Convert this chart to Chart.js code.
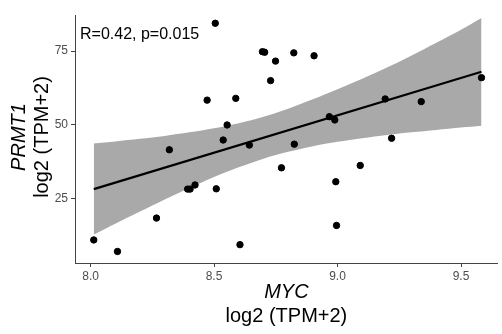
<!DOCTYPE html>
<html>
<head>
<meta charset="utf-8">
<script src="https://cdn.jsdelivr.net/npm/chart.js@4"></script>
<style>
  html, body { margin: 0; padding: 0; background: #fff; }
  #wrap { width: 502px; height: 334px; }
</style>
</head>
<body>
<div id="wrap"><canvas id="chart1" width="502" height="334"></canvas></div>
<script>
// MYC vs PRMT1, log2 (TPM+2)
const myc = [8.013, 8.109, 8.267, 8.319, 8.393, 8.403, 8.423, 8.472, 8.505, 8.509, 8.537, 8.553, 8.588, 8.605, 8.643, 8.696,
  8.705, 8.729, 8.749, 8.773, 8.823, 8.825, 8.905, 8.967, 8.989, 8.993, 8.996, 9.092, 9.193, 9.219, 9.339, 9.583];
const prmt1 = [11.1, 7.2, 18.5, 41.6, 28.3, 28.3, 29.7, 58.4, 84.4, 28.4, 44.9, 50.0, 59.0, 9.5, 43.2, 74.8,
  74.6, 65.0, 71.6, 35.5, 74.4, 43.5, 73.4, 52.8, 51.7, 30.8, 16.0, 36.3, 58.8, 45.5, 57.9, 66.0];

// fitted line and its confidence band
const fitX = [8.013, 9.583];
const fitY = [28.3, 68.0];
const bandX = [8.013, 8.1, 8.2, 8.3, 8.4, 8.5, 8.6, 8.7, 8.8, 8.9, 9.0, 9.1, 9.2, 9.3, 9.4, 9.5, 9.583];
const bandUpper = [43.7, 44.4, 45.3, 46.3, 47.5, 48.9, 50.6, 52.8, 55.5, 58.7, 62.1, 65.6, 69.4, 73.5, 77.8, 82.2, 86.2];
const bandLower = [12.9, 16.6, 20.7, 24.8, 28.7, 32.4, 35.7, 38.6, 40.9, 42.8, 44.3, 45.5, 46.6, 47.5, 48.3, 49.1, 49.7];

const xTicks = [8.0, 8.5, 9.0, 9.5];
const yTicks = [25, 50, 75];

const pts = (xs, ys) => xs.map((x, i) => ({ x: x, y: ys[i] }));

const labels = {
  id: 'labels',
  afterDraw(chart) {
    const c = chart.ctx;
    const a = chart.chartArea;
    const mid = (a.left + a.right) / 2;
    c.save();
    c.fillStyle = '#000';
    c.textAlign = 'center';
    c.textBaseline = 'alphabetic';
    c.font = 'italic 20px "Liberation Sans", Arial, sans-serif';
    c.fillText('MYC', mid, 298);
    c.font = '20px "Liberation Sans", Arial, sans-serif';
    c.fillText('log2 (TPM+2)', mid, 322);

    c.translate(0, 137);
    c.rotate(-Math.PI / 2);
    c.textBaseline = 'middle';
    c.font = 'italic 20px "Liberation Sans", Arial, sans-serif';
    c.fillText('PRMT1', 0, 19);
    c.font = '20px "Liberation Sans", Arial, sans-serif';
    c.fillText('log2 (TPM+2)', 0, 42);
    c.restore();

    c.save();
    c.fillStyle = '#000';
    c.font = '16px "Liberation Sans", Arial, sans-serif';
    c.textAlign = 'left';
    c.textBaseline = 'alphabetic';
    c.fillText('R=0.42, p=0.015', 80, 39);
    c.restore();
  }
};

const ctx1 = document.getElementById('chart1').getContext('2d');
const chart1 = new Chart(ctx1, {
  type: 'scatter',
  data: {
    datasets: [{
      data: pts(myc, prmt1),
      backgroundColor: '#000',
      borderColor: '#000',
      pointRadius: 3.2,
      pointHoverRadius: 3.2
    }, {
      type: 'line',
      data: pts(fitX, fitY),
      borderColor: '#000',
      borderWidth: 2.2,
      pointRadius: 0,
      fill: false
    }, {
      type: 'line',
      data: pts(bandX, bandUpper),
      borderWidth: 0,
      borderColor: 'rgba(0,0,0,0)',
      backgroundColor: '#a9a9a9',
      pointRadius: 0,
      tension: 0.3,
      fill: '+1'
    }, {
      type: 'line',
      data: pts(bandX, bandLower),
      borderWidth: 0,
      borderColor: 'rgba(0,0,0,0)',
      pointRadius: 0,
      tension: 0.3,
      fill: false
    }]
  },
  options: {
    responsive: false,
    animation: false,
    layout: { padding: { top: 15, right: 0, left: 0, bottom: 0 } },
    plugins: { legend: { display: false }, tooltip: { enabled: false } },
    scales: {
      x: {
        type: 'linear',
        min: 7.937,
        max: 9.649,
        afterBuildTicks: s => { s.ticks = xTicks.map(v => ({ value: v })); },
        afterFit: s => { s.height = 71; },
        grid: { drawOnChartArea: false, drawTicks: true, tickLength: 4, color: '#444' },
        border: { display: true, color: '#444', width: 1 },
        ticks: {
          padding: 2,
          color: '#4d4d4d',
          font: { size: 12, family: '"Liberation Sans", Arial, sans-serif' },
          callback: v => v.toFixed(1)
        }
      },
      y: {
        min: 3.3,
        max: 87.2,
        afterBuildTicks: s => { s.ticks = yTicks.map(v => ({ value: v })); },
        afterFit: s => { s.width = 75; },
        grid: { drawOnChartArea: false, drawTicks: true, tickLength: 4, color: '#444' },
        border: { display: true, color: '#444', width: 1 },
        ticks: {
          padding: 3,
          color: '#4d4d4d',
          font: { size: 12, family: '"Liberation Sans", Arial, sans-serif' }
        }
      }
    }
  },
  plugins: [labels]
});
</script>
</body>
</html>
